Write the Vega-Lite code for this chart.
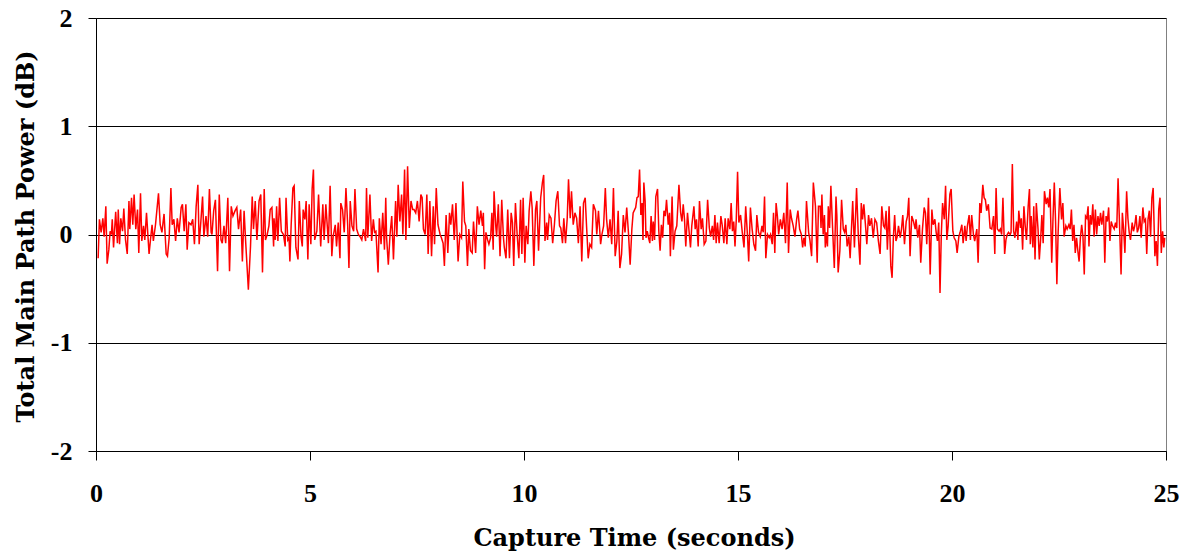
{
  "$schema": "https://vega.github.io/schema/vega-lite/v6.json",
  "width": 1070,
  "height": 433,
  "autosize": {"type": "none"},
  "padding": {"left": 96, "top": 18, "right": 21, "bottom": 103},
  "background": "white",
  "config": {
    "view": {"stroke": "#808080", "strokeWidth": 1},
    "font": "Liberation Serif"
  },
  "data": {"values": [
    {"time":0.05,"power":-0.22},{"time":0.08,"power":0.14},{"time":0.12,"power":0.02},{"time":0.16,"power":0.15},{"time":0.19,"power":-0.02},{"time":0.23,"power":0.26},{"time":0.26,"power":-0.27},{"time":0.30,"power":-0.14},{"time":0.33,"power":0.03},{"time":0.36,"power":0.00},
    {"time":0.38,"power":0.14},{"time":0.41,"power":-0.12},{"time":0.46,"power":0.21},{"time":0.50,"power":-0.08},{"time":0.52,"power":0.23},{"time":0.55,"power":-0.09},{"time":0.58,"power":0.15},{"time":0.62,"power":0.03},{"time":0.65,"power":0.24},{"time":0.69,"power":-0.05},
    {"time":0.73,"power":-0.18},{"time":0.77,"power":0.31},{"time":0.79,"power":0.05},{"time":0.83,"power":0.34},{"time":0.86,"power":0.09},{"time":0.89,"power":0.37},{"time":0.93,"power":0.05},{"time":0.97,"power":0.23},{"time":1.00,"power":-0.17},{"time":1.04,"power":0.38},
    {"time":1.07,"power":-0.06},{"time":1.11,"power":0.08},{"time":1.14,"power":-0.05},{"time":1.18,"power":0.20},{"time":1.24,"power":-0.18},{"time":1.27,"power":-0.06},{"time":1.31,"power":0.09},{"time":1.34,"power":-0.06},{"time":1.39,"power":0.09},{"time":1.46,"power":0.38},
    {"time":1.50,"power":0.09},{"time":1.54,"power":0.02},{"time":1.59,"power":0.19},{"time":1.64,"power":-0.18},{"time":1.67,"power":-0.20},{"time":1.71,"power":-0.03},{"time":1.75,"power":0.43},{"time":1.78,"power":0.09},{"time":1.82,"power":0.14},{"time":1.86,"power":-0.06},
    {"time":1.90,"power":0.15},{"time":1.94,"power":0.02},{"time":1.99,"power":0.25},{"time":2.02,"power":0.28},{"time":2.06,"power":0.03},{"time":2.10,"power":0.28},{"time":2.13,"power":-0.14},{"time":2.17,"power":0.11},{"time":2.22,"power":0.09},{"time":2.26,"power":0.14},
    {"time":2.30,"power":-0.09},{"time":2.34,"power":0.26},{"time":2.38,"power":0.46},{"time":2.41,"power":-0.09},{"time":2.45,"power":0.12},{"time":2.49,"power":0.35},{"time":2.52,"power":-0.02},{"time":2.57,"power":0.17},{"time":2.61,"power":-0.02},{"time":2.65,"power":0.42},
    {"time":2.69,"power":0.02},{"time":2.71,"power":0.00},{"time":2.75,"power":0.22},{"time":2.79,"power":0.32},{"time":2.84,"power":-0.34},{"time":2.88,"power":0.37},{"time":2.92,"power":-0.05},{"time":2.95,"power":-0.08},{"time":2.99,"power":0.08},{"time":3.03,"power":-0.08},
    {"time":3.08,"power":0.34},{"time":3.12,"power":-0.34},{"time":3.16,"power":0.26},{"time":3.20,"power":0.17},{"time":3.25,"power":0.22},{"time":3.29,"power":0.25},{"time":3.33,"power":0.05},{"time":3.38,"power":0.23},{"time":3.42,"power":-0.25},{"time":3.46,"power":0.22},
    {"time":3.50,"power":-0.09},{"time":3.56,"power":-0.51},{"time":3.61,"power":-0.11},{"time":3.65,"power":0.35},{"time":3.68,"power":0.05},{"time":3.72,"power":0.31},{"time":3.76,"power":-0.05},{"time":3.81,"power":0.31},{"time":3.85,"power":0.37},{"time":3.89,"power":-0.35},
    {"time":3.93,"power":0.42},{"time":3.96,"power":-0.05},{"time":4.00,"power":0.00},{"time":4.04,"power":0.08},{"time":4.07,"power":0.23},{"time":4.11,"power":0.25},{"time":4.15,"power":-0.11},
    {"time":4.16,"power":0.15},{"time":4.19,"power":-0.05},{"time":4.22,"power":0.26},{"time":4.25,"power":-0.06},{"time":4.29,"power":0.34},{"time":4.33,"power":0.03},{"time":4.38,"power":0.00},{"time":4.42,"power":-0.11},{"time":4.44,"power":0.34},{"time":4.48,"power":-0.05},
    {"time":4.51,"power":-0.03},{"time":4.53,"power":-0.25},{"time":4.56,"power":0.09},{"time":4.60,"power":0.43},{"time":4.63,"power":0.45},{"time":4.67,"power":-0.12},{"time":4.72,"power":-0.23},{"time":4.75,"power":0.31},{"time":4.79,"power":-0.02},{"time":4.82,"power":-0.11},
    {"time":4.84,"power":0.23},{"time":4.88,"power":0.14},{"time":4.91,"power":0.31},{"time":4.95,"power":-0.23},{"time":4.98,"power":0.28},{"time":5.02,"power":-0.09},{"time":5.05,"power":0.42},{"time":5.08,"power":0.60},{"time":5.11,"power":-0.05},{"time":5.16,"power":0.03},
    {"time":5.20,"power":0.37},{"time":5.25,"power":-0.11},{"time":5.30,"power":0.28},{"time":5.33,"power":-0.05},{"time":5.37,"power":0.28},{"time":5.43,"power":-0.08},{"time":5.47,"power":0.45},{"time":5.51,"power":-0.20},{"time":5.54,"power":-0.02},{"time":5.59,"power":0.09},
    {"time":5.62,"power":-0.11},{"time":5.66,"power":0.11},{"time":5.70,"power":-0.22},{"time":5.72,"power":0.29},{"time":5.76,"power":0.23},{"time":5.80,"power":0.02},{"time":5.84,"power":0.43},{"time":5.88,"power":0.09},{"time":5.91,"power":-0.31},{"time":5.94,"power":0.31},
    {"time":5.98,"power":0.08},{"time":6.02,"power":0.03},{"time":6.05,"power":0.42},{"time":6.09,"power":0.05},{"time":6.13,"power":0.00},{"time":6.17,"power":-0.02},{"time":6.21,"power":-0.05},{"time":6.25,"power":0.05},{"time":6.30,"power":-0.06},{"time":6.32,"power":0.43},
    {"time":6.35,"power":-0.03},{"time":6.40,"power":0.37},{"time":6.44,"power":-0.06},{"time":6.48,"power":0.14},{"time":6.51,"power":0.02},{"time":6.54,"power":0.03},{"time":6.59,"power":-0.35},{"time":6.62,"power":0.15},{"time":6.66,"power":-0.09},{"time":6.70,"power":0.20},
    {"time":6.74,"power":-0.14},{"time":6.77,"power":0.34},{"time":6.79,"power":-0.03},{"time":6.83,"power":-0.28},{"time":6.87,"power":0.00},{"time":6.91,"power":0.17},{"time":6.95,"power":-0.23},{"time":7.00,"power":0.31},{"time":7.03,"power":-0.02},{"time":7.06,"power":0.46},
    {"time":7.10,"power":0.12},{"time":7.14,"power":0.37},{"time":7.17,"power":0.00},{"time":7.21,"power":0.60},{"time":7.24,"power":-0.05},{"time":7.28,"power":0.63},{"time":7.32,"power":0.06},{"time":7.36,"power":0.31},{"time":7.40,"power":0.23},{"time":7.43,"power":0.23},
    {"time":7.47,"power":0.20},{"time":7.51,"power":0.31},{"time":7.55,"power":0.12},{"time":7.59,"power":0.37},{"time":7.62,"power":0.34},{"time":7.65,"power":0.05},{"time":7.69,"power":0.00},{"time":7.73,"power":0.37},{"time":7.76,"power":-0.18},{"time":7.80,"power":0.31},
    {"time":7.84,"power":-0.20},{"time":7.88,"power":0.26},{"time":7.91,"power":-0.09},{"time":7.95,"power":0.43},{"time":7.99,"power":0.09},{"time":8.04,"power":0.00},{"time":8.07,"power":-0.03},{"time":8.11,"power":-0.08},{"time":8.14,"power":-0.29},{"time":8.18,"power":0.18},
    {"time":8.22,"power":-0.17},{"time":8.26,"power":0.20},{"time":8.29,"power":0.09},{"time":8.33,"power":0.28},{"time":8.37,"power":-0.05},
    {"time":8.41,"power":0.29},{"time":8.46,"power":-0.25},{"time":8.50,"power":0.00},{"time":8.54,"power":-0.03},{"time":8.57,"power":0.49},{"time":8.61,"power":0.12},{"time":8.64,"power":0.08},{"time":8.68,"power":-0.29},{"time":8.71,"power":0.05},{"time":8.75,"power":-0.15},
    {"time":8.79,"power":-0.17},{"time":8.82,"power":0.12},{"time":8.87,"power":-0.17},{"time":8.91,"power":0.26},{"time":8.95,"power":0.09},{"time":8.99,"power":0.22},{"time":9.03,"power":0.08},{"time":9.05,"power":0.20},{"time":9.08,"power":-0.32},{"time":9.11,"power":0.02},
    {"time":9.15,"power":-0.05},{"time":9.18,"power":-0.09},{"time":9.22,"power":-0.03},{"time":9.25,"power":0.20},{"time":9.28,"power":-0.14},{"time":9.30,"power":0.40},{"time":9.34,"power":0.08},{"time":9.36,"power":-0.02},{"time":9.40,"power":0.28},{"time":9.44,"power":-0.20},
    {"time":9.48,"power":0.32},{"time":9.52,"power":-0.03},{"time":9.54,"power":-0.12},{"time":9.58,"power":-0.22},{"time":9.62,"power":0.23},{"time":9.66,"power":-0.22},{"time":9.70,"power":0.20},{"time":9.73,"power":0.11},{"time":9.76,"power":-0.29},{"time":9.80,"power":0.29},
    {"time":9.84,"power":0.00},{"time":9.88,"power":-0.22},{"time":9.92,"power":0.32},{"time":9.95,"power":-0.18},{"time":9.98,"power":0.34},{"time":10.02,"power":-0.26},{"time":10.05,"power":0.08},{"time":10.09,"power":-0.09},{"time":10.12,"power":0.22},{"time":10.16,"power":0.40},
    {"time":10.19,"power":0.25},{"time":10.23,"power":-0.29},{"time":10.27,"power":0.23},{"time":10.30,"power":0.31},{"time":10.34,"power":-0.15},{"time":10.39,"power":0.34},{"time":10.43,"power":0.48},{"time":10.46,"power":0.55},{"time":10.49,"power":-0.06},{"time":10.53,"power":0.11},
    {"time":10.55,"power":-0.05},{"time":10.59,"power":0.18},{"time":10.63,"power":0.15},{"time":10.67,"power":-0.08},{"time":10.71,"power":0.09},{"time":10.75,"power":0.31},{"time":10.79,"power":0.40},{"time":10.83,"power":0.08},{"time":10.86,"power":0.06},{"time":10.90,"power":-0.08},
    {"time":10.93,"power":0.15},{"time":10.97,"power":-0.08},{"time":11.01,"power":0.15},{"time":11.04,"power":0.51},{"time":11.08,"power":0.15},{"time":11.11,"power":0.40},{"time":11.15,"power":0.09},{"time":11.19,"power":0.20},{"time":11.23,"power":0.15},{"time":11.27,"power":-0.08},
    {"time":11.31,"power":0.26},{"time":11.35,"power":-0.25},{"time":11.39,"power":0.29},{"time":11.43,"power":0.34},{"time":11.46,"power":0.09},{"time":11.50,"power":-0.22},{"time":11.54,"power":-0.09},{"time":11.58,"power":-0.12},{"time":11.62,"power":0.28},{"time":11.67,"power":0.22},
    {"time":11.70,"power":0.00},{"time":11.74,"power":0.22},{"time":11.79,"power":-0.09},{"time":11.82,"power":0.00},{"time":11.86,"power":0.08},{"time":11.90,"power":0.43},{"time":11.93,"power":0.14},{"time":11.97,"power":-0.03},{"time":12.01,"power":0.14},{"time":12.05,"power":-0.09},
    {"time":12.09,"power":0.43},{"time":12.13,"power":-0.20},{"time":12.17,"power":-0.06},{"time":12.20,"power":0.22},{"time":12.24,"power":-0.31},{"time":12.28,"power":-0.18},{"time":12.32,"power":0.18},{"time":12.36,"power":0.02},{"time":12.40,"power":0.25},{"time":12.44,"power":0.02},
    {"time":12.48,"power":-0.28},{"time":12.52,"power":0.05},{"time":12.55,"power":0.20},
    {"time":12.61,"power":0.25},{"time":12.64,"power":0.34},{"time":12.67,"power":0.35},{"time":12.70,"power":0.60},{"time":12.73,"power":0.18},{"time":12.76,"power":0.29},{"time":12.78,"power":-0.05},{"time":12.80,"power":0.48},{"time":12.83,"power":0.31},{"time":12.85,"power":-0.03},
    {"time":12.88,"power":0.03},{"time":12.91,"power":-0.03},{"time":12.94,"power":-0.08},{"time":12.97,"power":0.17},{"time":13.00,"power":-0.06},{"time":13.02,"power":0.12},{"time":13.05,"power":-0.05},{"time":13.08,"power":0.35},{"time":13.12,"power":0.42},{"time":13.15,"power":0.03},
    {"time":13.18,"power":-0.15},{"time":13.21,"power":0.09},{"time":13.24,"power":-0.03},{"time":13.27,"power":0.22},{"time":13.30,"power":0.17},{"time":13.33,"power":0.32},{"time":13.37,"power":0.09},{"time":13.40,"power":0.20},{"time":13.42,"power":-0.20},{"time":13.46,"power":0.35},
    {"time":13.49,"power":-0.14},{"time":13.53,"power":0.03},{"time":13.57,"power":0.08},{"time":13.62,"power":0.46},{"time":13.66,"power":0.20},{"time":13.69,"power":0.12},{"time":13.72,"power":0.28},{"time":13.75,"power":0.14},{"time":13.78,"power":-0.11},{"time":13.82,"power":0.20},
    {"time":13.85,"power":0.06},{"time":13.89,"power":-0.12},{"time":13.92,"power":0.08},{"time":13.97,"power":0.26},{"time":14.00,"power":0.05},{"time":14.03,"power":0.14},{"time":14.07,"power":-0.11},{"time":14.10,"power":0.31},{"time":14.14,"power":0.05},{"time":14.17,"power":0.15},
    {"time":14.21,"power":-0.09},{"time":14.25,"power":-0.06},{"time":14.29,"power":0.32},{"time":14.33,"power":0.06},{"time":14.36,"power":-0.02},{"time":14.40,"power":0.08},{"time":14.43,"power":-0.05},{"time":14.46,"power":0.18},{"time":14.49,"power":-0.08},{"time":14.52,"power":0.11},
    {"time":14.56,"power":-0.08},{"time":14.60,"power":0.17},{"time":14.63,"power":0.09},{"time":14.67,"power":-0.08},{"time":14.70,"power":0.15},{"time":14.74,"power":-0.09},{"time":14.77,"power":0.15},{"time":14.81,"power":0.05},{"time":14.84,"power":0.29},{"time":14.87,"power":0.03},
    {"time":14.90,"power":0.12},{"time":14.93,"power":-0.11},{"time":14.96,"power":0.14},{"time":14.99,"power":0.58},{"time":15.02,"power":0.11},{"time":15.06,"power":0.18},{"time":15.10,"power":0.02},{"time":15.14,"power":-0.12},{"time":15.18,"power":0.26},{"time":15.22,"power":0.00},
    {"time":15.25,"power":-0.25},{"time":15.29,"power":0.25},{"time":15.33,"power":0.05},{"time":15.37,"power":-0.09},{"time":15.41,"power":-0.15},{"time":15.44,"power":0.18},{"time":15.48,"power":0.02},{"time":15.52,"power":-0.02},{"time":15.56,"power":0.08},{"time":15.59,"power":0.02},
    {"time":15.62,"power":0.35},{"time":15.65,"power":-0.22},{"time":15.69,"power":0.00},{"time":15.73,"power":-0.03},{"time":15.76,"power":0.00},{"time":15.80,"power":-0.09},{"time":15.83,"power":0.20},{"time":15.86,"power":-0.17},{"time":15.89,"power":0.29},{"time":15.92,"power":0.17},
    {"time":15.95,"power":0.00},{"time":15.99,"power":0.14},{"time":16.03,"power":0.05},{"time":16.07,"power":0.20},{"time":16.11,"power":-0.08},{"time":16.15,"power":0.48},{"time":16.18,"power":-0.17},{"time":16.22,"power":0.23},{"time":16.25,"power":0.15},{"time":16.29,"power":0.08},
    {"time":16.33,"power":-0.02},{"time":16.37,"power":0.14},{"time":16.40,"power":0.22},{"time":16.44,"power":0.05},{"time":16.48,"power":0.00},{"time":16.51,"power":-0.12},{"time":16.54,"power":-0.03},{"time":16.57,"power":-0.11},{"time":16.60,"power":0.31},{"time":16.65,"power":0.02},
    {"time":16.68,"power":-0.05},{"time":16.72,"power":-0.20},{"time":16.76,"power":0.48},
    {"time":16.81,"power":0.26},{"time":16.85,"power":-0.26},{"time":16.88,"power":0.26},{"time":16.92,"power":0.26},{"time":16.94,"power":0.06},{"time":16.96,"power":0.37},{"time":16.99,"power":0.00},{"time":17.02,"power":0.18},{"time":17.04,"power":-0.12},{"time":17.06,"power":0.02},
    {"time":17.09,"power":-0.11},{"time":17.11,"power":0.26},{"time":17.14,"power":0.06},{"time":17.17,"power":0.45},{"time":17.21,"power":0.06},{"time":17.25,"power":-0.31},{"time":17.29,"power":0.35},{"time":17.31,"power":0.17},{"time":17.34,"power":-0.35},{"time":17.38,"power":-0.15},
    {"time":17.42,"power":0.32},{"time":17.46,"power":0.05},{"time":17.49,"power":0.02},{"time":17.52,"power":0.09},{"time":17.55,"power":-0.11},{"time":17.59,"power":-0.02},{"time":17.62,"power":-0.22},{"time":17.68,"power":0.31},{"time":17.72,"power":-0.12},{"time":17.77,"power":0.43},
    {"time":17.81,"power":0.00},{"time":17.85,"power":-0.28},{"time":17.88,"power":0.29},{"time":17.91,"power":0.14},{"time":17.94,"power":0.28},{"time":17.98,"power":0.08},{"time":18.01,"power":-0.09},{"time":18.05,"power":0.18},{"time":18.08,"power":0.08},{"time":18.12,"power":0.15},
    {"time":18.16,"power":-0.03},{"time":18.20,"power":0.14},{"time":18.24,"power":0.11},{"time":18.28,"power":-0.06},{"time":18.32,"power":-0.18},{"time":18.36,"power":0.26},{"time":18.40,"power":0.08},{"time":18.43,"power":0.06},{"time":18.46,"power":0.22},{"time":18.49,"power":-0.14},
    {"time":18.53,"power":0.26},{"time":18.57,"power":-0.29},{"time":18.60,"power":-0.40},{"time":18.63,"power":-0.03},{"time":18.66,"power":0.18},{"time":18.69,"power":-0.06},{"time":18.72,"power":-0.02},{"time":18.75,"power":0.08},{"time":18.79,"power":-0.03},{"time":18.82,"power":0.05},
    {"time":18.85,"power":0.18},{"time":18.89,"power":-0.09},{"time":18.93,"power":0.12},{"time":18.96,"power":0.17},{"time":18.99,"power":0.34},{"time":19.02,"power":-0.20},{"time":19.06,"power":0.17},{"time":19.10,"power":0.12},{"time":19.14,"power":0.05},{"time":19.16,"power":0.14},
    {"time":19.20,"power":-0.03},{"time":19.24,"power":0.09},{"time":19.27,"power":-0.26},{"time":19.31,"power":0.05},{"time":19.35,"power":0.25},{"time":19.38,"power":0.20},{"time":19.41,"power":-0.09},{"time":19.45,"power":0.34},{"time":19.49,"power":-0.37},{"time":19.53,"power":0.23},
    {"time":19.56,"power":0.09},{"time":19.60,"power":0.14},{"time":19.63,"power":0.02},{"time":19.66,"power":-0.06},{"time":19.69,"power":0.11},{"time":19.72,"power":-0.54},{"time":19.75,"power":0.00},{"time":19.78,"power":0.29},{"time":19.82,"power":0.14},{"time":19.85,"power":0.45},
    {"time":19.88,"power":-0.05},{"time":19.91,"power":0.08},{"time":19.95,"power":0.37},{"time":19.98,"power":0.42},{"time":20.02,"power":0.03},{"time":20.05,"power":-0.03},{"time":20.09,"power":-0.06},{"time":20.12,"power":-0.17},{"time":20.16,"power":-0.02},{"time":20.19,"power":0.02},
    {"time":20.23,"power":0.09},{"time":20.26,"power":-0.08},{"time":20.30,"power":0.08},{"time":20.33,"power":-0.06},{"time":20.36,"power":0.08},{"time":20.40,"power":0.18},{"time":20.43,"power":-0.05},{"time":20.46,"power":0.18},{"time":20.50,"power":0.00},{"time":20.53,"power":-0.06},
    {"time":20.58,"power":0.05},{"time":20.61,"power":-0.26},{"time":20.65,"power":0.29},{"time":20.68,"power":0.20},{"time":20.72,"power":0.46},{"time":20.75,"power":0.34},{"time":20.78,"power":0.32},{"time":20.81,"power":0.22},{"time":20.85,"power":0.28},{"time":20.89,"power":0.06},
    {"time":20.93,"power":0.05},{"time":20.97,"power":0.17},
    {"time":21.00,"power":-0.18},{"time":21.03,"power":0.43},{"time":21.06,"power":0.05},{"time":21.10,"power":0.03},{"time":21.13,"power":0.05},{"time":21.16,"power":0.00},{"time":21.19,"power":0.34},{"time":21.23,"power":-0.18},{"time":21.26,"power":-0.05},{"time":21.29,"power":0.00},
    {"time":21.32,"power":0.02},{"time":21.36,"power":0.00},{"time":21.38,"power":0.02},{"time":21.41,"power":0.65},{"time":21.44,"power":0.03},{"time":21.47,"power":-0.03},{"time":21.51,"power":0.12},{"time":21.54,"power":-0.05},{"time":21.56,"power":0.22},{"time":21.60,"power":0.06},
    {"time":21.62,"power":0.15},{"time":21.65,"power":-0.14},{"time":21.68,"power":0.26},{"time":21.71,"power":0.08},{"time":21.74,"power":-0.05},{"time":21.78,"power":0.26},{"time":21.81,"power":0.42},{"time":21.83,"power":-0.09},{"time":21.85,"power":0.17},{"time":21.89,"power":-0.12},
    {"time":21.91,"power":0.26},{"time":21.94,"power":-0.23},{"time":21.97,"power":0.29},{"time":22.01,"power":0.05},{"time":22.04,"power":-0.23},{"time":22.07,"power":-0.05},{"time":22.10,"power":0.18},{"time":22.13,"power":-0.08},{"time":22.16,"power":0.40},{"time":22.20,"power":0.28},
    {"time":22.23,"power":0.34},{"time":22.26,"power":0.25},{"time":22.29,"power":0.42},{"time":22.33,"power":-0.26},{"time":22.36,"power":0.15},{"time":22.39,"power":0.48},{"time":22.42,"power":0.12},{"time":22.45,"power":-0.46},{"time":22.48,"power":0.02},{"time":22.52,"power":0.43},
    {"time":22.56,"power":0.14},{"time":22.59,"power":0.29},{"time":22.62,"power":-0.02},{"time":22.66,"power":0.08},{"time":22.69,"power":0.05},{"time":22.73,"power":0.09},{"time":22.76,"power":0.05},{"time":22.79,"power":0.23},{"time":22.82,"power":-0.06},{"time":22.85,"power":0.09},
    {"time":22.88,"power":-0.17},{"time":22.91,"power":-0.03},{"time":22.94,"power":-0.15},{"time":22.97,"power":-0.25},{"time":23.00,"power":-0.03},{"time":23.03,"power":0.09},{"time":23.06,"power":-0.02},{"time":23.09,"power":-0.37},{"time":23.12,"power":0.17},{"time":23.15,"power":0.15},
    {"time":23.18,"power":0.26},{"time":23.20,"power":-0.11},{"time":23.23,"power":0.18},{"time":23.26,"power":0.09},{"time":23.29,"power":0.28},{"time":23.32,"power":-0.02},{"time":23.35,"power":0.23},{"time":23.38,"power":0.00},{"time":23.41,"power":0.17},{"time":23.44,"power":0.08},
    {"time":23.47,"power":0.20},{"time":23.50,"power":0.09},{"time":23.54,"power":0.22},{"time":23.57,"power":-0.26},{"time":23.60,"power":0.17},{"time":23.63,"power":0.12},{"time":23.66,"power":0.25},{"time":23.69,"power":-0.06},{"time":23.72,"power":0.12},{"time":23.75,"power":0.08},
    {"time":23.79,"power":0.05},{"time":23.82,"power":0.11},{"time":23.85,"power":0.06},{"time":23.88,"power":0.52},{"time":23.92,"power":0.02},{"time":23.95,"power":-0.37},{"time":23.98,"power":0.20},{"time":24.01,"power":0.05},{"time":24.04,"power":-0.17},{"time":24.08,"power":0.40},
    {"time":24.11,"power":0.15},{"time":24.14,"power":0.02},{"time":24.17,"power":-0.05},{"time":24.21,"power":0.11},{"time":24.24,"power":0.03},{"time":24.27,"power":0.08},{"time":24.30,"power":0.18},{"time":24.33,"power":0.02},{"time":24.36,"power":0.06},{"time":24.39,"power":0.17},
    {"time":24.42,"power":-0.03},{"time":24.46,"power":0.25},{"time":24.49,"power":0.12},{"time":24.52,"power":0.14},{"time":24.55,"power":-0.18},{"time":24.58,"power":0.14},{"time":24.61,"power":0.22},{"time":24.64,"power":-0.02},{"time":24.67,"power":0.34},{"time":24.70,"power":0.43},
    {"time":24.74,"power":-0.20},{"time":24.77,"power":-0.06},{"time":24.80,"power":-0.29},{"time":24.83,"power":0.23},{"time":24.86,"power":0.34},{"time":24.89,"power":-0.17},{"time":24.92,"power":0.03},{"time":24.95,"power":-0.12},{"time":24.97,"power":-0.03}
  ]},
  "mark": {"type": "line", "color": "#FF0000", "strokeWidth": 1.5, "clip": true},
  "encoding": {
    "x": {
      "field": "time", "type": "quantitative",
      "scale": {"domain": [0, 25], "nice": false, "zero": false},
      "axis": {
        "title": "Capture Time (seconds)",
        "values": [0, 5, 10, 15, 20, 25],
        "grid": false,
        "domainColor": "#000000", "domainWidth": 1,
        "tickColor": "#000000", "tickSize": 9, "tickWidth": 1,
        "labelFont": "Liberation Serif", "labelFontSize": 26, "labelFontWeight": "bold", "labelColor": "#000000",
        "labelPadding": 20, "labelFlush": false,
        "labelExpr": "'' + datum.value",
        "titleFont": "DejaVu Serif", "titleFontSize": 24, "titleFontWeight": "bold", "titleColor": "#000000",
        "titleX": 538, "titleY": 94, "titleAnchor": "middle", "titleAlign": "center", "titleBaseline": "alphabetic"
      }
    },
    "y": {
      "field": "power", "type": "quantitative",
      "scale": {"domain": [-2, 2], "nice": false, "zero": false},
      "axis": {
        "title": "Total Main Path Power (dB)",
        "values": [-2, -1, 0, 1, 2],
        "grid": true, "gridColor": "#000000", "gridWidth": 1, "gridOpacity": 1,
        "domainColor": "#000000", "domainWidth": 1,
        "tickColor": "#000000", "tickSize": 8, "tickWidth": 1,
        "labelFont": "Liberation Serif", "labelFontSize": 26, "labelFontWeight": "bold", "labelColor": "#000000",
        "labelPadding": 16, "labelFlush": false,
        "labelExpr": "'' + datum.value",
        "titleFont": "DejaVu Serif", "titleFontSize": 24, "titleFontWeight": "bold", "titleColor": "#000000",
        "titleAngle": 270, "titleX": -63, "titleY": 218, "titleAlign": "center", "titleBaseline": "alphabetic"
      }
    }
  }
}
